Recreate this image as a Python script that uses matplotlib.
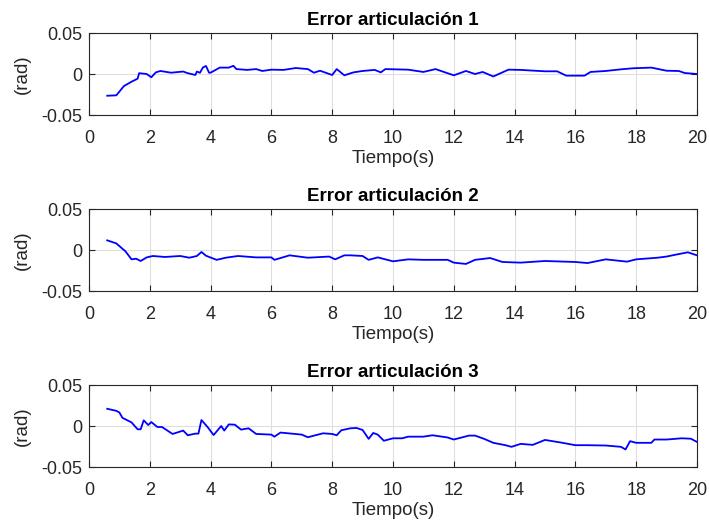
import numpy as np
import matplotlib.pyplot as plt

plt.rcParams['font.family'] = ['Liberation Sans', 'DejaVu Sans']
plt.rcParams['axes.unicode_minus'] = False

# Error articulacion 1 (rad)
t1 = [0.6, 0.9, 1.15, 1.4, 1.6, 1.65, 1.9, 2.05, 2.2, 2.35, 2.7, 3.1, 3.25, 3.5, 3.55,
      3.65, 3.75, 3.85, 3.95, 4.0, 4.3, 4.6, 4.75, 4.85, 5.2, 5.5, 5.7, 6.0, 6.4, 6.8,
      7.2, 7.4, 7.6, 8.0, 8.15, 8.4, 8.7, 9.0, 9.4, 9.6, 9.75, 10.5, 11.0, 11.4, 12.0,
      12.4, 12.7, 12.95, 13.3, 13.8, 14.2, 15.0, 15.4, 15.7, 16.3, 16.5, 17.0, 17.5,
      17.9, 18.5, 19.0, 19.4, 19.6, 20.0]
e1 = [-0.0265, -0.026, -0.0147, -0.0094, -0.0057, 0.001, 0.0, -0.004, 0.002, 0.0037,
      0.0016, 0.003, 0.001, -0.0012, 0.003, 0.0015, 0.008, 0.0098, 0.0016, 0.0016,
      0.0078, 0.0078, 0.010, 0.006, 0.005, 0.006, 0.0037, 0.0053, 0.005, 0.0073,
      0.006, 0.0016, 0.004, -0.0012, 0.006, -0.0016, 0.002, 0.0037, 0.005, 0.002,
      0.006, 0.0053, 0.0025, 0.006, -0.0016, 0.0037, 0.0, 0.0025, -0.003, 0.0053,
      0.005, 0.0033, 0.0033, -0.002, -0.002, 0.0025, 0.0037, 0.0057, 0.007, 0.0078,
      0.004, 0.0037, 0.0012, 0.0]

# Error articulacion 2 (rad)
t2 = [0.6, 0.9, 1.2, 1.4, 1.55, 1.7, 1.9, 2.1, 2.5, 3.0, 3.3, 3.55, 3.7, 3.85, 4.2,
      4.5, 4.9, 5.5, 6.0, 6.1, 6.6, 7.2, 7.9, 8.1, 8.4, 8.6, 9.0, 9.2, 9.5, 10.0,
      10.5, 11.0, 11.8, 12.0, 12.4, 12.7, 13.2, 13.6, 14.2, 15.0, 16.0, 16.4, 17.0,
      17.7, 18.0, 18.7, 19.0, 19.3, 19.7, 20.0]
e2 = [0.0118, 0.008, -0.0016, -0.0114, -0.0106, -0.0134, -0.009, -0.0073, -0.0085,
      -0.0073, -0.0094, -0.0073, -0.0024, -0.007, -0.012, -0.0094, -0.0073, -0.009,
      -0.009, -0.012, -0.0065, -0.0094, -0.008, -0.0114, -0.0065, -0.0065, -0.0073,
      -0.012, -0.009, -0.0138, -0.0114, -0.012, -0.012, -0.0154, -0.017, -0.012,
      -0.0098, -0.0146, -0.0154, -0.0134, -0.0146, -0.0159, -0.0114, -0.0142,
      -0.0114, -0.0094, -0.008, -0.0057, -0.0028, -0.0065]

# Error articulacion 3 (rad)
t3 = [0.6, 0.9, 1.0, 1.1, 1.4, 1.6, 1.7, 1.8, 1.95, 2.05, 2.25, 2.4, 2.75, 3.1, 3.25,
      3.5, 3.6, 3.7, 3.9, 4.1, 4.35, 4.45, 4.6, 4.8, 5.0, 5.25, 5.5, 6.0, 6.1, 6.3,
      7.0, 7.2, 7.7, 8.0, 8.15, 8.3, 8.6, 8.8, 9.0, 9.2, 9.35, 9.5, 9.7, 10.0, 10.3,
      10.5, 11.0, 11.3, 11.8, 12.0, 12.5, 12.7, 13.0, 13.3, 13.7, 13.9, 14.2, 14.6,
      15.0, 15.5, 16.0, 16.4, 17.0, 17.5, 17.65, 17.8, 18.0, 18.5, 18.6, 19.0, 19.5,
      19.8, 20.0]
e3 = [0.021, 0.0185, 0.0165, 0.010, 0.0044, -0.004, -0.004, 0.0069, 0.0012, 0.0048,
      -0.0012, -0.0012, -0.0097, -0.0056, -0.0113, -0.0093, -0.0093, 0.0073, -0.0012,
      -0.011, 0.0, -0.0056, 0.002, 0.0016, -0.0044, -0.0028, -0.0097, -0.0105,
      -0.013, -0.008, -0.0105, -0.0137, -0.0089, -0.0097, -0.0113, -0.0052, -0.0028,
      -0.0024, -0.0048, -0.0157, -0.0085, -0.0105, -0.018, -0.015, -0.015, -0.013,
      -0.013, -0.0113, -0.014, -0.0165, -0.0117, -0.0117, -0.0157, -0.0205, -0.0234,
      -0.0254, -0.0218, -0.023, -0.017, -0.020, -0.0234, -0.0234, -0.0238, -0.0254,
      -0.0286, -0.0185, -0.0205, -0.0205, -0.0165, -0.0165, -0.015, -0.0155, -0.0194]

series = [(t1, e1), (t2, e2), (t3, e3)]
titles = ['Error articulación 1', 'Error articulación 2', 'Error articulación 3']
bottoms = [0.7826, 0.4499, 0.1172]

fig = plt.figure(figsize=(7.09, 5.29), dpi=100)
dark = '#262626'

for (t, e), title, b in zip(series, titles, bottoms):
    ax = fig.add_axes([0.1255, b, 0.8575, 0.155])
    ax.plot(t, e, color='#0000ff', linewidth=1.3)
    ax.set_xlim(0, 20)
    ax.set_ylim(-0.05, 0.05)
    ax.set_xticks(np.arange(0, 21, 2))
    ax.set_yticks([-0.05, 0, 0.05])
    ax.set_yticklabels(['-0.05', '0', '0.05'])
    ax.grid(True, color='#dfdfdf', linewidth=0.8)
    ax.set_axisbelow(True)
    ax.tick_params(direction='in', top=True, right=True, length=4,
                   labelsize=13, colors=dark)
    ax.tick_params(axis='x', pad=11)
    ax.tick_params(axis='y', pad=5)
    for s in ax.spines.values():
        s.set_color(dark)
        s.set_linewidth(0.8)
    ax.set_title(title, fontsize=13.5, fontweight='bold', pad=6)
    ax.set_xlabel('Tiempo(s)', fontsize=13.5, color=dark, labelpad=2)
    ax.set_ylabel('(rad)', fontsize=13.5, color=dark, labelpad=7)

fig.savefig('out.png', dpi=100)
